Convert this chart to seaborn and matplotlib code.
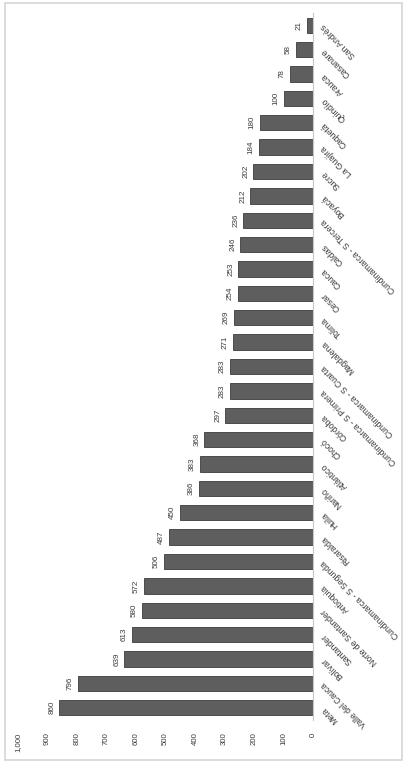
import numpy as np
import pandas as pd
import seaborn as sns
import matplotlib.pyplot as plt
from matplotlib.patches import Rectangle

# Data, in original order (largest first)
regions = ['Meta', 'Valle del Cauca', 'Bolívar', 'Santander', 'Norte de Santander',
           'Antioquia', 'Cundinamarca - S Segunda', 'Risaralda', 'Huila', 'Nariño',
           'Atlántico', 'Chocó', 'Córdoba', 'Cundinamarca - S Primera',
           'Cundinamarca - S Cuarta', 'Magdalena', 'Tolima', 'Cesar', 'Cauca', 'Caldas',
           'Cundinamarca - S Tercera', 'Boyacá', 'Sucre', 'La Guajira', 'Caquetá',
           'Quindío', 'Arauca', 'Casanare', 'San Andrés']
counts = [860, 796, 639, 613, 580, 572, 506, 487, 450, 386, 383, 368, 297, 283,
          283, 271, 269, 254, 253, 246, 236, 212, 202, 184, 180, 100, 78, 58, 21]
value_ticks = list(range(0, 1001, 100))
value_tick_labels = ['0', '100', '200', '300', '400', '500', '600', '700', '800', '900', '1,000']
title = 'Procesos del Sistema Oral entre 2014'

df = pd.DataFrame({'region': regions, 'count': counts})

sns.set_style('white')
plt.rcParams['font.family'] = ['Liberation Sans', 'DejaVu Sans']

fig = plt.figure(figsize=(4.07, 7.65), dpi=100)
ax = fig.add_axes([18 / 407, 45 / 765, 295 / 407, 707 / 765])

sns.barplot(data=df, x='count', y='region', orient='h', color='#5e5e5e',
            edgecolor='#3c3c3c', linewidth=0.6, width=0.63, saturation=1, ax=ax)

# chart is shown rotated: values grow to the left, first region at the bottom
ax.set_xlim(1000, 0)
ax.set_ylim(-0.5, len(regions) - 0.5)

ax.bar_label(ax.containers[0], labels=[str(c) for c in counts], padding=3,
             rotation=90, fontsize=5.8, color='#3a3a3a')

ax.set_xticks(value_ticks)
ax.set_xticklabels(value_tick_labels, rotation=90, fontsize=5.6, color='#3a3a3a')
ax.tick_params(axis='x', length=0, pad=9)

ax.yaxis.tick_right()
ax.set_yticks(range(len(regions)))
ax.set_yticklabels(regions, rotation=135, rotation_mode='anchor', ha='right',
                   va='center', fontsize=6.2, color='#3a3a3a')
ax.tick_params(axis='y', length=0, pad=7)

ax.set_xlabel('')
ax.set_ylabel('')
for side in ['top', 'bottom', 'left']:
    ax.spines[side].set_visible(False)
ax.spines['right'].set_color('#c8c8c8')
ax.spines['right'].set_linewidth(0.8)

# chart frame
fig.patches.append(Rectangle((5 / 407, 5 / 765), 397 / 407, 757 / 765,
                             transform=fig.transFigure, fill=False,
                             edgecolor='#d6d6d6', linewidth=1.2))

# title, mostly cut off at the left edge as in the source image
fig.text(-0.018, 0.25, title, rotation=90, fontsize=8, color='#404040',
         ha='left', va='center')

fig.savefig('out.png', dpi=100, facecolor='white')
